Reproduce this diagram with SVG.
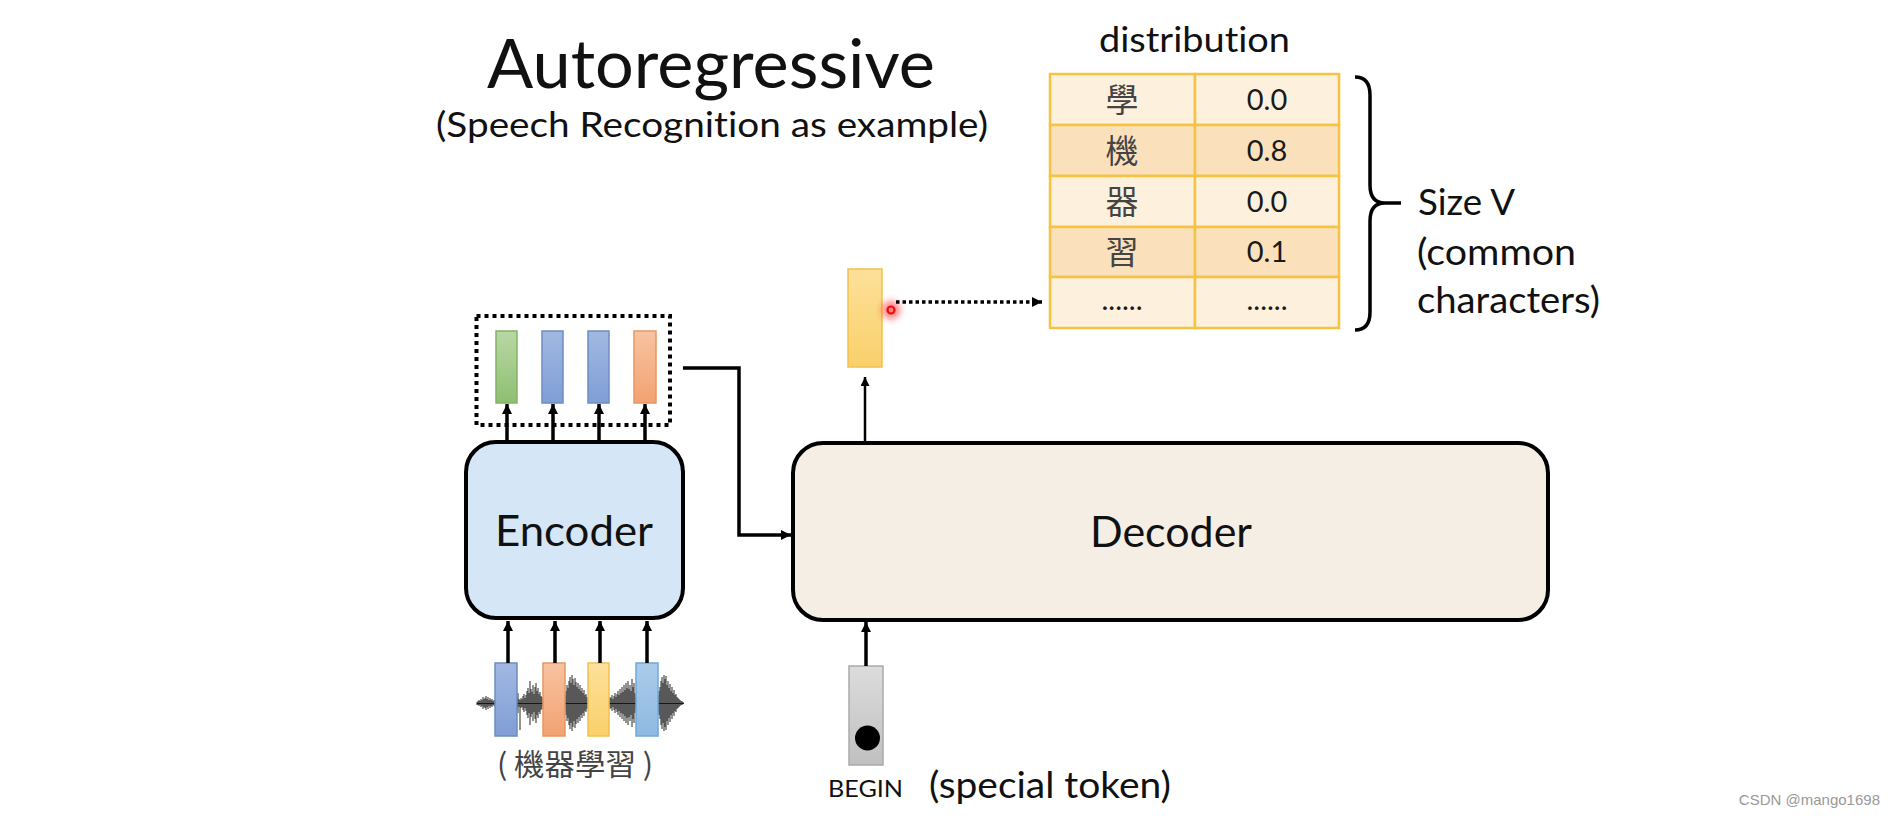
<svg xmlns="http://www.w3.org/2000/svg" width="1896" height="818" viewBox="0 0 1896 818">
<style>
.t{font-family:Lato,"Liberation Sans",Arial,sans-serif;fill:#111;font-variant-ligatures:none}
.cjk{font-family:"Noto Sans CJK TC","Noto Sans CJK SC",sans-serif;fill:#444}
.num{font-family:Lato,"Liberation Sans",Arial,sans-serif;fill:#1a1a1a;font-size:29px;text-anchor:middle}
.ln{stroke:#000;fill:none;stroke-width:3.5}
.thin{stroke:#000;fill:none;stroke-width:2.5}
.cell{stroke:#f5c242;stroke-width:2.5}
.wave{stroke:#111;stroke-width:0.9;fill:none}
</style>
<defs>
<marker id="arr" markerUnits="userSpaceOnUse" markerWidth="12" markerHeight="12" refX="10" refY="5" orient="auto">
<path d="M0,0 L10,5 L0,10 z" fill="#000"/>
</marker>
<marker id="arrs" markerUnits="userSpaceOnUse" markerWidth="10" markerHeight="10" refX="9" refY="4.5" orient="auto">
<path d="M0,0 L9,4.5 L0,9 z" fill="#000"/>
</marker>
<linearGradient id="gGreen" x1="0" y1="0" x2="0" y2="1"><stop offset="0" stop-color="#b8d8a4"/><stop offset="1" stop-color="#8fbf72"/></linearGradient>
<linearGradient id="gBlue" x1="0" y1="0" x2="0" y2="1"><stop offset="0" stop-color="#a2b8e2"/><stop offset="1" stop-color="#7f9ed6"/></linearGradient>
<linearGradient id="gOrange" x1="0" y1="0" x2="0" y2="1"><stop offset="0" stop-color="#f8c3a0"/><stop offset="1" stop-color="#f2a272"/></linearGradient>
<linearGradient id="gYellow" x1="0" y1="0" x2="0" y2="1"><stop offset="0" stop-color="#fde19a"/><stop offset="1" stop-color="#f9d06a"/></linearGradient>
<linearGradient id="gLBlue" x1="0" y1="0" x2="0" y2="1"><stop offset="0" stop-color="#abcbea"/><stop offset="1" stop-color="#8fb9e2"/></linearGradient>
<linearGradient id="gGray" x1="0" y1="0" x2="0" y2="1"><stop offset="0" stop-color="#dcdcdc"/><stop offset="1" stop-color="#c0c0c0"/></linearGradient>
<filter id="glow" x="-1" y="-1" width="3" height="3"><feGaussianBlur stdDeviation="3.5"/></filter>
</defs>

<rect width="1896" height="818" fill="#fff"/>

<g id="title">
<text class="t" x="487" y="88" font-size="68" textLength="448" lengthAdjust="spacingAndGlyphs">Autoregressive</text>
<text class="t" x="436" y="137" font-size="35" textLength="552" lengthAdjust="spacingAndGlyphs">(Speech Recognition as example)</text>
</g>

<g id="distribution">
<text class="t" x="1099" y="52" font-size="34" textLength="191" lengthAdjust="spacingAndGlyphs">distribution</text>
<rect class="cell" x="1050" y="74" width="145" height="51" fill="#fdf0dc"/>
<rect class="cell" x="1195" y="74" width="144" height="51" fill="#fdf0dc"/>
<rect class="cell" x="1050" y="125" width="145" height="51" fill="#fbe1bb"/>
<rect class="cell" x="1195" y="125" width="144" height="51" fill="#fbe1bb"/>
<rect class="cell" x="1050" y="176" width="145" height="51" fill="#fdf0dc"/>
<rect class="cell" x="1195" y="176" width="144" height="51" fill="#fdf0dc"/>
<rect class="cell" x="1050" y="227" width="145" height="50" fill="#fbe1bb"/>
<rect class="cell" x="1195" y="227" width="144" height="50" fill="#fbe1bb"/>
<rect class="cell" x="1050" y="277" width="145" height="51" fill="#fdf0dc"/>
<rect class="cell" x="1195" y="277" width="144" height="51" fill="#fdf0dc"/>
<text class="cjk" x="1122" y="112" font-size="33" text-anchor="middle">學</text>
<text class="cjk" x="1122" y="163" font-size="33" text-anchor="middle">機</text>
<text class="cjk" x="1122" y="214" font-size="33" text-anchor="middle">器</text>
<text class="cjk" x="1122" y="264" font-size="33" text-anchor="middle">習</text>
<text class="num" x="1122" y="310">......</text>
<text class="num" x="1267" y="110">0.0</text>
<text class="num" x="1267" y="161">0.8</text>
<text class="num" x="1267" y="212">0.0</text>
<text class="num" x="1267" y="262">0.1</text>
<text class="num" x="1267" y="310">......</text>
</g>

<g id="brace">
<path class="ln" stroke-width="3" d="M1355,77 Q1370,77 1370,95 V185 Q1370,203 1385,203 H1401 M1385,203 Q1370,203 1370,221 V312 Q1370,330 1355,330"/>
<text class="t" x="1418" y="215" font-size="36" textLength="97" lengthAdjust="spacingAndGlyphs">Size V</text>
<text class="t" x="1417" y="265" font-size="36" textLength="159" lengthAdjust="spacingAndGlyphs">(common</text>
<text class="t" x="1417" y="313" font-size="36" textLength="183" lengthAdjust="spacingAndGlyphs">characters)</text>
</g>

<g id="decoder-output">
<rect x="848" y="269" width="34" height="98" fill="url(#gYellow)" stroke="#f2c14e" stroke-width="1.5"/>
<circle cx="891" cy="310" r="9" fill="#ff2020" opacity="0.6" filter="url(#glow)"/>
<circle cx="891" cy="310" r="3.5" fill="none" stroke="#e81010" stroke-width="2.2"/>
</g>

<g id="encoder-output">
<rect x="476.5" y="316" width="193.5" height="109" fill="none" stroke="#000" stroke-width="4" stroke-dasharray="4 4"/>
<rect x="496" y="331" width="21" height="72" fill="url(#gGreen)" stroke="#82b366" stroke-width="1.5"/>
<rect x="542" y="331" width="21" height="72" fill="url(#gBlue)" stroke="#6c8ebf" stroke-width="1.5"/>
<rect x="588" y="331" width="21" height="72" fill="url(#gBlue)" stroke="#6c8ebf" stroke-width="1.5"/>
<rect x="634" y="331" width="22" height="72" fill="url(#gOrange)" stroke="#e59866" stroke-width="1.5"/>
</g>

<g id="encoder">
<rect x="466" y="442" width="217" height="176" rx="30" ry="30" fill="#d5e6f6" stroke="#000" stroke-width="4"/>
<text class="t" x="495" y="546" font-size="42" textLength="158" lengthAdjust="spacingAndGlyphs">Encoder</text>
</g>

<g id="decoder">
<rect x="793" y="443" width="755" height="177" rx="30" ry="30" fill="#f4eee5" stroke="#000" stroke-width="4"/>
<text class="t" x="1090" y="547" font-size="42" textLength="162" lengthAdjust="spacingAndGlyphs">Decoder</text>
</g>

<g id="audio-input">
<path class="wave" stroke-width="2" d="M477,703.5 H684"/>
<path class="wave" d="M477,702V705 M478,701V705 M479,700V706 M480,701V705 M481,699V707 M482,700V706 M483,697V709 M484,699V707 M485,698V708 M486,696V710 M487,699V707 M488,697V709 M489,700V706 M490,698V708 M491,700V706 M492,699V707 M493,701V705 M494,700V706 M495,701V705
M517,697V709 M518,693V713 M519,699V707 M520,700V730 M521,698V708 M522,699V707 M523,696V710 M524,694V712 M525,698V708 M526,695V711 M527,691V715 M528,688V718 M529,693V713 M530,681V725 M531,689V717 M532,692V714 M533,685V721 M534,694V712 M535,687V719 M536,683V723 M537,691V715 M538,688V718 M539,694V712 M540,692V714 M541,696V710 M542,697V709 M543,699V707
M565,695V711 M566,691V715 M567,685V721 M568,688V718 M569,681V725 M570,677V729 M571,683V723 M572,675V731 M573,679V727 M574,685V721 M575,678V728 M576,682V724 M577,687V719 M578,683V723 M579,689V717 M580,685V721 M581,691V715 M582,688V718 M583,693V713 M584,690V716 M585,695V711 M586,694V712 M587,697V709 M588,698V708
M609,699V707 M610,697V709 M611,698V708 M612,695V711 M613,699V707 M614,696V710 M615,693V713 M616,697V709 M617,694V712 M618,691V715 M619,695V711 M620,689V717 M621,693V713 M622,687V719 M623,692V714 M624,685V721 M625,690V716 M626,683V723 M627,688V718 M628,681V725 M629,689V717 M630,685V721 M631,691V715 M632,679V727 M633,687V719 M634,683V723 M635,693V713 M636,697V709
M658,695V711 M659,691V715 M660,687V719 M661,681V725 M662,677V729 M663,683V723 M664,675V731 M665,679V727 M666,676V730 M667,685V721 M668,681V725 M669,688V718 M670,684V722 M671,691V715 M672,687V719 M673,693V713 M674,690V716 M675,695V711 M676,694V712 M677,697V709 M678,698V708 M679,699V707 M680,700V706 M681,701V705 M682,701V705 M683,702V704"/>
<rect x="495" y="663" width="22" height="73" fill="url(#gBlue)" stroke="#6c8ebf" stroke-width="1.5"/>
<rect x="543" y="663" width="22" height="73" fill="url(#gOrange)" stroke="#e59866" stroke-width="1.5"/>
<rect x="588" y="663" width="21" height="73" fill="url(#gYellow)" stroke="#f2c14e" stroke-width="1.5"/>
<rect x="636" y="663" width="22" height="73" fill="url(#gLBlue)" stroke="#6fa8dc" stroke-width="1.5"/>
<text class="cjk" x="497" y="775" font-size="30" fill="#444" textLength="156" lengthAdjust="spacingAndGlyphs">( 機器學習 )</text>
</g>

<g id="begin-token">
<rect x="849" y="666" width="34" height="99" fill="url(#gGray)" stroke="#aaa" stroke-width="1.5"/>
<circle cx="867.5" cy="738" r="12.5" fill="#000"/>
<text class="t" x="828" y="797" font-size="24" textLength="75" lengthAdjust="spacingAndGlyphs">BEGIN</text>
<text class="t" x="929" y="798" font-size="37" textLength="242" lengthAdjust="spacingAndGlyphs">(special token)</text>
</g>

<g id="connectors">
<line class="ln" x1="508" y1="663" x2="508" y2="621" marker-end="url(#arr)"/>
<line class="ln" x1="555" y1="663" x2="555" y2="621" marker-end="url(#arr)"/>
<line class="ln" x1="600" y1="663" x2="600" y2="621" marker-end="url(#arr)"/>
<line class="ln" x1="647" y1="663" x2="647" y2="621" marker-end="url(#arr)"/>
<line class="ln" x1="507" y1="442" x2="507" y2="404" marker-end="url(#arr)"/>
<line class="ln" x1="553" y1="442" x2="553" y2="404" marker-end="url(#arr)"/>
<line class="ln" x1="599" y1="442" x2="599" y2="404" marker-end="url(#arr)"/>
<line class="ln" x1="645" y1="442" x2="645" y2="404" marker-end="url(#arr)"/>
<path class="ln" stroke-width="3" d="M683,368 H739 V535 H791" marker-end="url(#arr)"/>
<line class="thin" x1="865" y1="441" x2="865" y2="377" marker-end="url(#arrs)"/>
<line class="ln" stroke-width="3" x1="866" y1="666" x2="866" y2="622" marker-end="url(#arr)"/>
<line x1="896" y1="302" x2="1042" y2="302" stroke="#000" stroke-width="3.5" stroke-dasharray="3.5 3" marker-end="url(#arr)"/>
</g>

<text x="1880" y="805" font-family="Liberation Sans, Arial, sans-serif" font-size="15" fill="#999" text-anchor="end">CSDN @mango1698</text>
</svg>
